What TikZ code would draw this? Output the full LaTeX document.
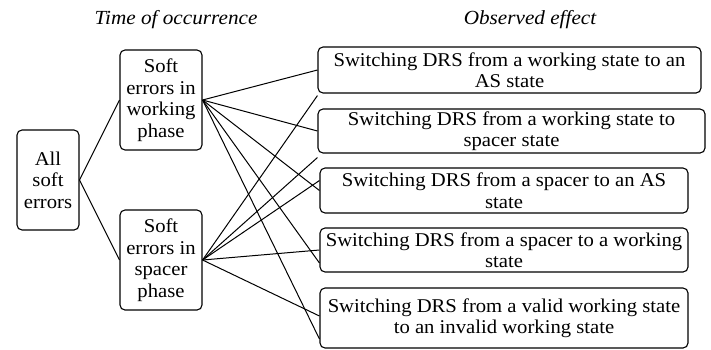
\documentclass[tikz,border=0pt]{standalone}
\usepackage{fontspec}
\setmainfont{Liberation Serif}[FakeStretch=1.06]
\begin{document}
\begin{tikzpicture}
      [x=1pt,y=-1pt,
      box/.style={draw,line width=1.1pt,rounded corners=5pt,align=center,inner sep=0pt,
        font=\fontsize{19.5}{21.5}\selectfont},
      phase/.style={box,minimum width=82pt,minimum height=100pt},
      effect/.style={box,minimum width=368pt,minimum height=45pt},
      head/.style={font=\itshape\fontsize{20}{22}\selectfont},
      link/.style={line width=1pt}]
      \useasboundingbox (0,0) rectangle (711,349);
      \node[head] (time) at (176,20) {Time of occurrence};
      \node[head] (obs) at (530,20) {Observed effect};
      \node[box,minimum width=62pt,minimum height=100pt] (all) at (48,180) {All\\soft\\errors};
      \node[phase] (work) at (161,100) {Soft\\errors in\\working\\phase};
      \node[phase] (spac) at (161,260) {Soft\\errors in\\spacer\\phase};
      \node[effect,minimum width=383pt,minimum height=46pt] (e1) at (509.5,70)
        {Switching DRS from a working state to an\\AS state};
      \node[effect,minimum width=387pt,minimum height=44pt] (e2) at (511.5,131)
        {Switching DRS from a working state to\\spacer state};
      \node[effect] (e3) at (504,190.5)
        {Switching DRS from a spacer to an AS\\state};
      \node[effect,minimum height=44pt] (e4) at (504,250)
        {Switching DRS from a spacer to a working\\state};
      \node[effect,minimum height=60pt] (e5) at (504,318)
        {Switching DRS from a valid working state\\to an invalid working state};
      \draw[link] (all.east) -- (work.west);
      \draw[link] (all.east) -- (spac.west);
      \draw[link] (work.east) -- (e1.west);
      \draw[link] (work.east) -- (e2.west);
      \draw[link] (work.east) -- (e3.west);
      \draw[link] (work.east) -- ([yshift=-13pt]e4.west);
      \draw[link] (work.east) -- ([yshift=-21pt]e5.west);
      \draw[link] (spac.east) -- ([yshift=-2pt]e1.south west);
      \draw[link] (spac.east) -- ([yshift=-4pt]e2.south west);
      \draw[link] (spac.east) -- ([yshift=10pt]e3.west);
      \draw[link] (spac.east) -- (e4.west);
      \draw[link] (spac.east) -- ([yshift=2pt]e5.west);
    \end{tikzpicture}
\end{document}
